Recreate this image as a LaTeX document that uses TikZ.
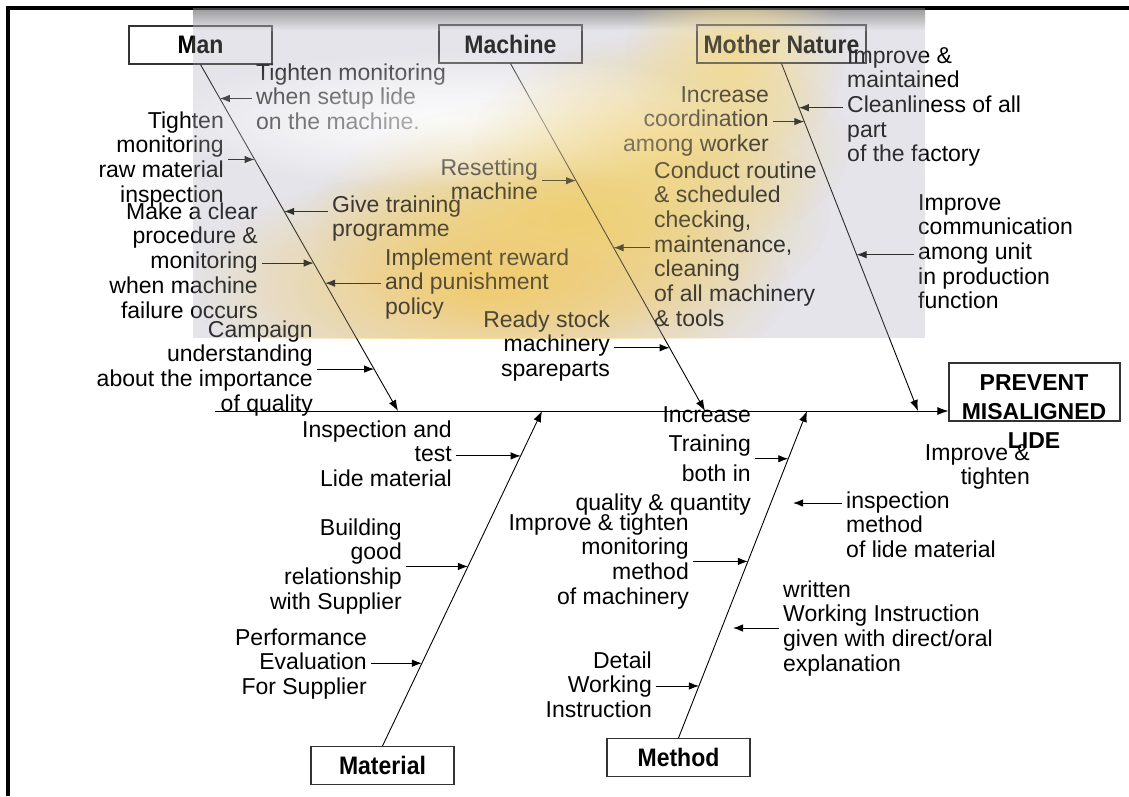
\documentclass[tikz,border=0pt]{standalone}
\usepackage{fontspec}
\setmainfont{Liberation Sans}
\usetikzlibrary{arrows.meta,calc,fadings}
\definecolor{bggray}{RGB}{228,228,234}
\definecolor{bgyellow}{RGB}{243,208,100}
\tikzfading[name=glowfade, inner color=transparent!0, outer color=transparent!100]
\newcommand\bgpaint{%
  \begin{scope}
    \clip (193,8) rectangle (925,338);
    \fill[bggray] (193,8) rectangle (925,338);
    \shade[top color=black!45, bottom color=bggray] (193,8) rectangle (925,30);
    \fill[white, opacity=0.7, path fading=glowfade] (450,120) ellipse [x radius=300, y radius=70];
    \fill[bgyellow!75, path fading=glowfade] (735,55) ellipse [x radius=110, y radius=110];
    \fill[bgyellow!85, path fading=glowfade] (660,145) ellipse [x radius=190, y radius=110];
    \fill[bgyellow, path fading=glowfade] (570,215) ellipse [x radius=260, y radius=120];
    \fill[bgyellow!90!orange, path fading=glowfade] (490,285) ellipse [x radius=300, y radius=120];
  \end{scope}}
\newcommand\tallbf[1]{\scalebox{1}[1.1]{#1}}
\begin{document}
\begin{tikzpicture}[x=1pt,y=-1pt,
  lbl/.style={font=\fontsize{23}{24.7}\selectfont, inner sep=0pt, text=black},
  lr/.style={lbl, align=right, anchor=base east},
  ll/.style={lbl, align=left, anchor=base west},
  cat/.style={draw=black!80, line width=1.1pt, minimum width=143pt, minimum height=38pt, inner sep=0pt, font=\bfseries\fontsize{23}{26}\selectfont},
  bone/.style={line width=0.9pt, -{Latex[length=11pt,width=8pt]}},
  sub/.style={line width=0.9pt, -{Latex[length=10pt,width=7.5pt]}, shorten <=4pt}
]
\useasboundingbox (0,0) rectangle (1129,796);
\fill[white] (0,0) rectangle (1129,796);
\bgpaint
\draw[line width=4pt] (8,796) -- (8,8) -- (1129,8);

% category boxes
\node[cat] (man)  at (200.5,45) {\tallbf{Man}};
\node[cat] (mach) at (510.5,44) {\tallbf{Machine}};
\node[cat, minimum width=169pt] (nat) at (781.5,44) {\tallbf{Mother Nature}};
\node[cat] (mat)  at (382.5,765.5) {\tallbf{Material}};
\node[cat] (meth) at (678.5,757.5) {\tallbf{Method}};

% goal
\node[draw=black!80, line width=1.1pt, minimum width=171pt, minimum height=58pt, inner sep=0pt] (goal) at (1034.5,392) {};
\node[font=\bfseries\fontsize{23}{29}\selectfont, align=center, anchor=base, inner sep=0pt] (goaltxt) at (1034,448) {PREVENT\\MISALIGNED\\LIDE};

% spine and bones
\coordinate (s0) at (215,411);
\coordinate (tMan) at (398,411);
\coordinate (tMach) at (705,411);
\coordinate (tNat) at (918,411);
\coordinate (tMat) at (542,411);
\coordinate (tMeth) at (807,411);
\draw[bone] (s0) -- (goal.west |- s0);
\draw[bone] (man.south) -- (tMan);
\draw[bone] (mach.south) -- (tMach);
\draw[bone] (nat.south) -- (tNat);
\draw[bone] (mat.north) -- (tMat);
\draw[bone] (meth.north) -- (tMeth);

% labels (anchored at the baseline of their last line)
\node[ll] (c1) at (256,129.4) {Tighten monitoring\\when setup lide\\on the machine.};
\node[lr] (c2) at (224,202.1) {Tighten\\monitoring\\raw material\\inspection};
\node[ll] (c3) at (332,236.7) {Give training\\programme};
\node[lr] (c4) at (258,318) {Make a clear\\procedure \&\\monitoring\\when machine\\failure occurs};
\node[ll] (c5) at (385,314.4) {Implement reward\\and punishment\\policy};
\node[lr] (c6) at (313,411.1) {Campaign\\understanding\\about the importance\\of quality};
\node[lr] (c7) at (538,199.7) {Resetting\\machine};
\node[ll] (c8) at (654,326.2) {Conduct routine\\\& scheduled\\checking,\\maintenance,\\cleaning\\of all machinery\\\& tools};
\node[lr] (c9) at (769,151.4) {Increase\\coordination\\among worker};
\node[lr] (c10) at (610,376.4) {Ready stock\\machinery\\spareparts};
\node[ll] (c11) at (847,161.8) {Improve \&\\maintained\\Cleanliness of all\\part\\of the factory};
\node[ll] (c12) at (918,308.8) {Improve\\communication\\among unit\\in production\\function};
\node[lr] (c13) at (452,486.4) {Inspection and\\test\\Lide material};
\node[lr] (c14) at (402,609.1) {Building\\good\\relationship\\with Supplier};
\node[lr] (c15) at (367,694.4) {Performance\\Evaluation\\For Supplier};
\node[lr, font=\fontsize{23}{29.5}\selectfont] (c16) at (751,510.5) {Increase\\Training\\both in\\quality \& quantity};
\node[lr] (c17) at (689,604.1) {Improve \& tighten\\monitoring\\method\\of machinery};
\node[lr] (c18a) at (1030,484.7) {Improve \&\\tighten};
\node[ll] (c18b) at (846,557.4) {inspection\\method\\of lide material};
\node[ll] (c19) at (783,671.1) {written\\Working Instruction\\given with direct/oral\\explanation};
\node[lr] (c20) at (652,717.4) {Detail\\Working\\Instruction};

% heads on bones
\coordinate (h1) at ($(man.south)!0.098!(tMan)$);
\coordinate (h2) at ($(man.south)!0.274!(tMan)$);
\coordinate (h3) at ($(man.south)!0.424!(tMan)$);
\coordinate (h4) at ($(man.south)!0.573!(tMan)$);
\coordinate (h5) at ($(man.south)!0.631!(tMan)$);
\coordinate (h6) at ($(man.south)!0.879!(tMan)$);
\coordinate (h7) at ($(mach.south)!0.337!(tMach)$);
\coordinate (h8) at ($(mach.south)!0.530!(tMach)$);
\coordinate (h10) at ($(mach.south)!0.818!(tMach)$);
\coordinate (h9) at ($(nat.south)!0.167!(tNat)$);
\coordinate (h11) at ($(nat.south)!0.127!(tNat)$);
\coordinate (h12) at ($(nat.south)!0.550!(tNat)$);
\coordinate (h13) at ($(mat.north)!0.866!(tMat)$);
\coordinate (h14) at ($(mat.north)!0.536!(tMat)$);
\coordinate (h15) at ($(mat.north)!0.247!(tMat)$);
\coordinate (h16) at ($(meth.north)!0.854!(tMeth)$);
\coordinate (h17) at ($(meth.north)!0.540!(tMeth)$);
\coordinate (h20) at ($(meth.north)!0.159!(tMeth)$);
\coordinate (h18) at (793,503);
\coordinate (h19) at (733,628);

% sub-cause arrows
\draw[sub] (c1.west |- h1) -- (h1);
\draw[sub] (c2.east |- h2) -- (h2);
\draw[sub] (c3.west |- h3) -- (h3);
\draw[sub] (c4.east |- h4) -- (h4);
\draw[sub] (c5.west |- h5) -- (h5);
\draw[sub] (c6.east |- h6) -- (h6);
\draw[sub] (c7.east |- h7) -- (h7);
\draw[sub] (c8.west |- h8) -- (h8);
\draw[sub] (c9.east |- h9) -- (h9);
\draw[sub] (c10.east |- h10) -- (h10);
\draw[sub] (c11.west |- h11) -- (h11);
\draw[sub] (c12.west |- h12) -- (h12);
\draw[sub] (c13.east |- h13) -- (h13);
\draw[sub] (c14.east |- h14) -- (h14);
\draw[sub] (c15.east |- h15) -- (h15);
\draw[sub] (c16.east |- h16) -- (h16);
\draw[sub] (c17.east |- h17) -- (h17);
\draw[sub] (c18b.west |- h18) -- (h18);
\draw[sub] (c19.west |- h19) -- (h19);
\draw[sub] (c20.east |- h20) -- (h20);

% tint overlay like the reference's translucent background
\begin{scope}[opacity=0.2]
\bgpaint
\end{scope}
\end{tikzpicture}
\end{document}
